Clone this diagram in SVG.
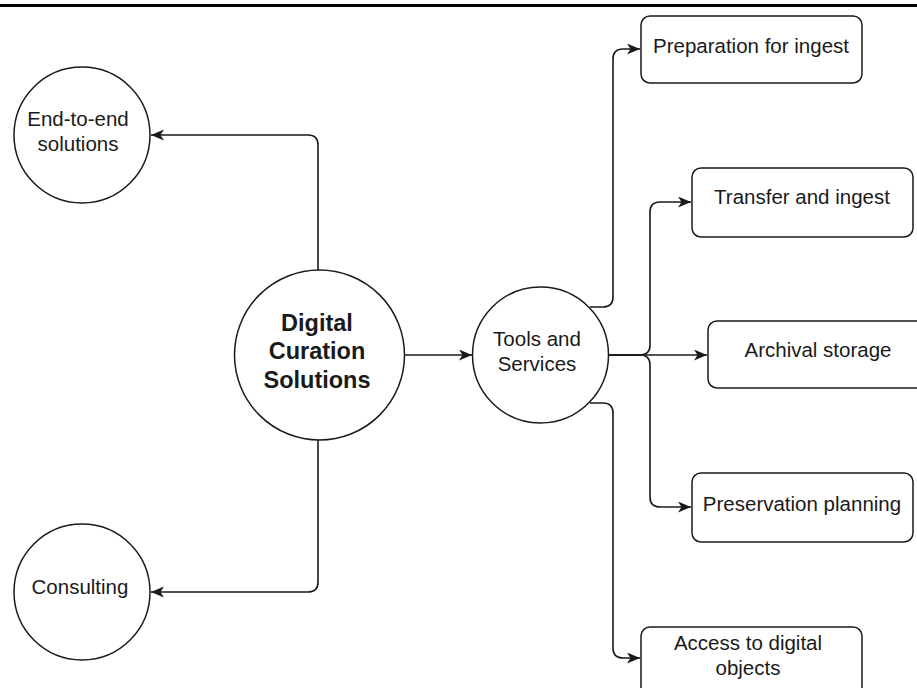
<svg xmlns="http://www.w3.org/2000/svg" width="917" height="688" viewBox="0 0 917 688">
  <style>
    .shape { fill: #ffffff; stroke: #1a1a1a; stroke-width: 1.5; }
    .edge { fill: none; stroke: #1a1a1a; stroke-width: 1.6; marker-end: url(#arrow); }
    .label { font-family: "Liberation Sans", Arial, Helvetica, sans-serif; font-size: 20.5px; fill: #1a1a1a; text-anchor: middle; }
    .title { font-family: "Liberation Sans", Arial, Helvetica, sans-serif; font-size: 23.5px; font-weight: bold; fill: #1a1a1a; text-anchor: middle; }
  </style>
  <defs>
    <!-- notched block arrowhead, sized in user units -->
    <marker id="arrow" markerUnits="userSpaceOnUse" markerWidth="16" markerHeight="12" refX="13" refY="5.5" orient="auto">
      <path d="M0,0 L13,5.5 L0,11 L3.5,5.5 Z" fill="#1a1a1a"/>
    </marker>
  </defs>

  <rect width="917" height="688" fill="#ffffff"/>
  <!-- header rule -->
  <line x1="0" y1="5.5" x2="917" y2="5.5" stroke="#000000" stroke-width="3"/>

  <g id="connectors">
    <path class="edge" d="M318,270 L318,145 Q318,135 308,135 L151,135"/>
    <path class="edge" d="M318,440 L318,582 Q318,592 308,592 L151,592"/>
    <path class="edge" d="M405,355 L472,355"/>
    <path class="edge" d="M590,307 L603,307 Q613,307 613,297 L613,59 Q613,49 623,49 L640,49"/>
    <path class="edge" d="M608,355 L640,355 Q650,355 650,345 L650,212 Q650,202 660,202 L691,202"/>
    <path class="edge" d="M608,355 L707,355"/>
    <path class="edge" d="M608,355 L640,355 Q650,355 650,365 L650,497 Q650,507 660,507 L691,507"/>
    <path class="edge" d="M590,403 L603,403 Q613,403 613,413 L613,648 Q613,658 623,658 L640,658"/>
  </g>

  <g id="end-to-end">
    <circle class="shape" cx="82" cy="135" r="68"/>
    <text class="label" x="78" y="126">End-to-end</text>
    <text class="label" x="78" y="151">solutions</text>
  </g>

  <g id="consulting">
    <circle class="shape" cx="82" cy="592" r="68"/>
    <text class="label" x="80" y="594">Consulting</text>
  </g>

  <g id="digital-curation">
    <circle class="shape" cx="319.5" cy="355" r="85"/>
    <text class="title" x="317" y="331">Digital</text>
    <text class="title" x="317" y="359">Curation</text>
    <text class="title" x="317" y="388">Solutions</text>
  </g>

  <g id="tools-services">
    <circle class="shape" cx="540.5" cy="355" r="68"/>
    <text class="label" x="537" y="346">Tools and</text>
    <text class="label" x="537" y="371">Services</text>
  </g>

  <g id="preparation">
    <rect class="shape" x="641" y="16" width="221" height="67" rx="9"/>
    <text class="label" x="751" y="53">Preparation for ingest</text>
  </g>

  <g id="transfer">
    <rect class="shape" x="692" y="168" width="221" height="69" rx="9"/>
    <text class="label" x="802" y="204">Transfer and ingest</text>
  </g>

  <g id="archival">
    <rect class="shape" x="708" y="321" width="221" height="67" rx="9"/>
    <text class="label" x="818" y="357">Archival storage</text>
  </g>

  <g id="preservation">
    <rect class="shape" x="692" y="473" width="221" height="69" rx="9"/>
    <text class="label" x="802" y="511">Preservation planning</text>
  </g>

  <g id="access">
    <rect class="shape" x="641" y="627" width="221" height="80" rx="9"/>
    <text class="label" x="748" y="650">Access to digital</text>
    <text class="label" x="748" y="675">objects</text>
  </g>
</svg>
